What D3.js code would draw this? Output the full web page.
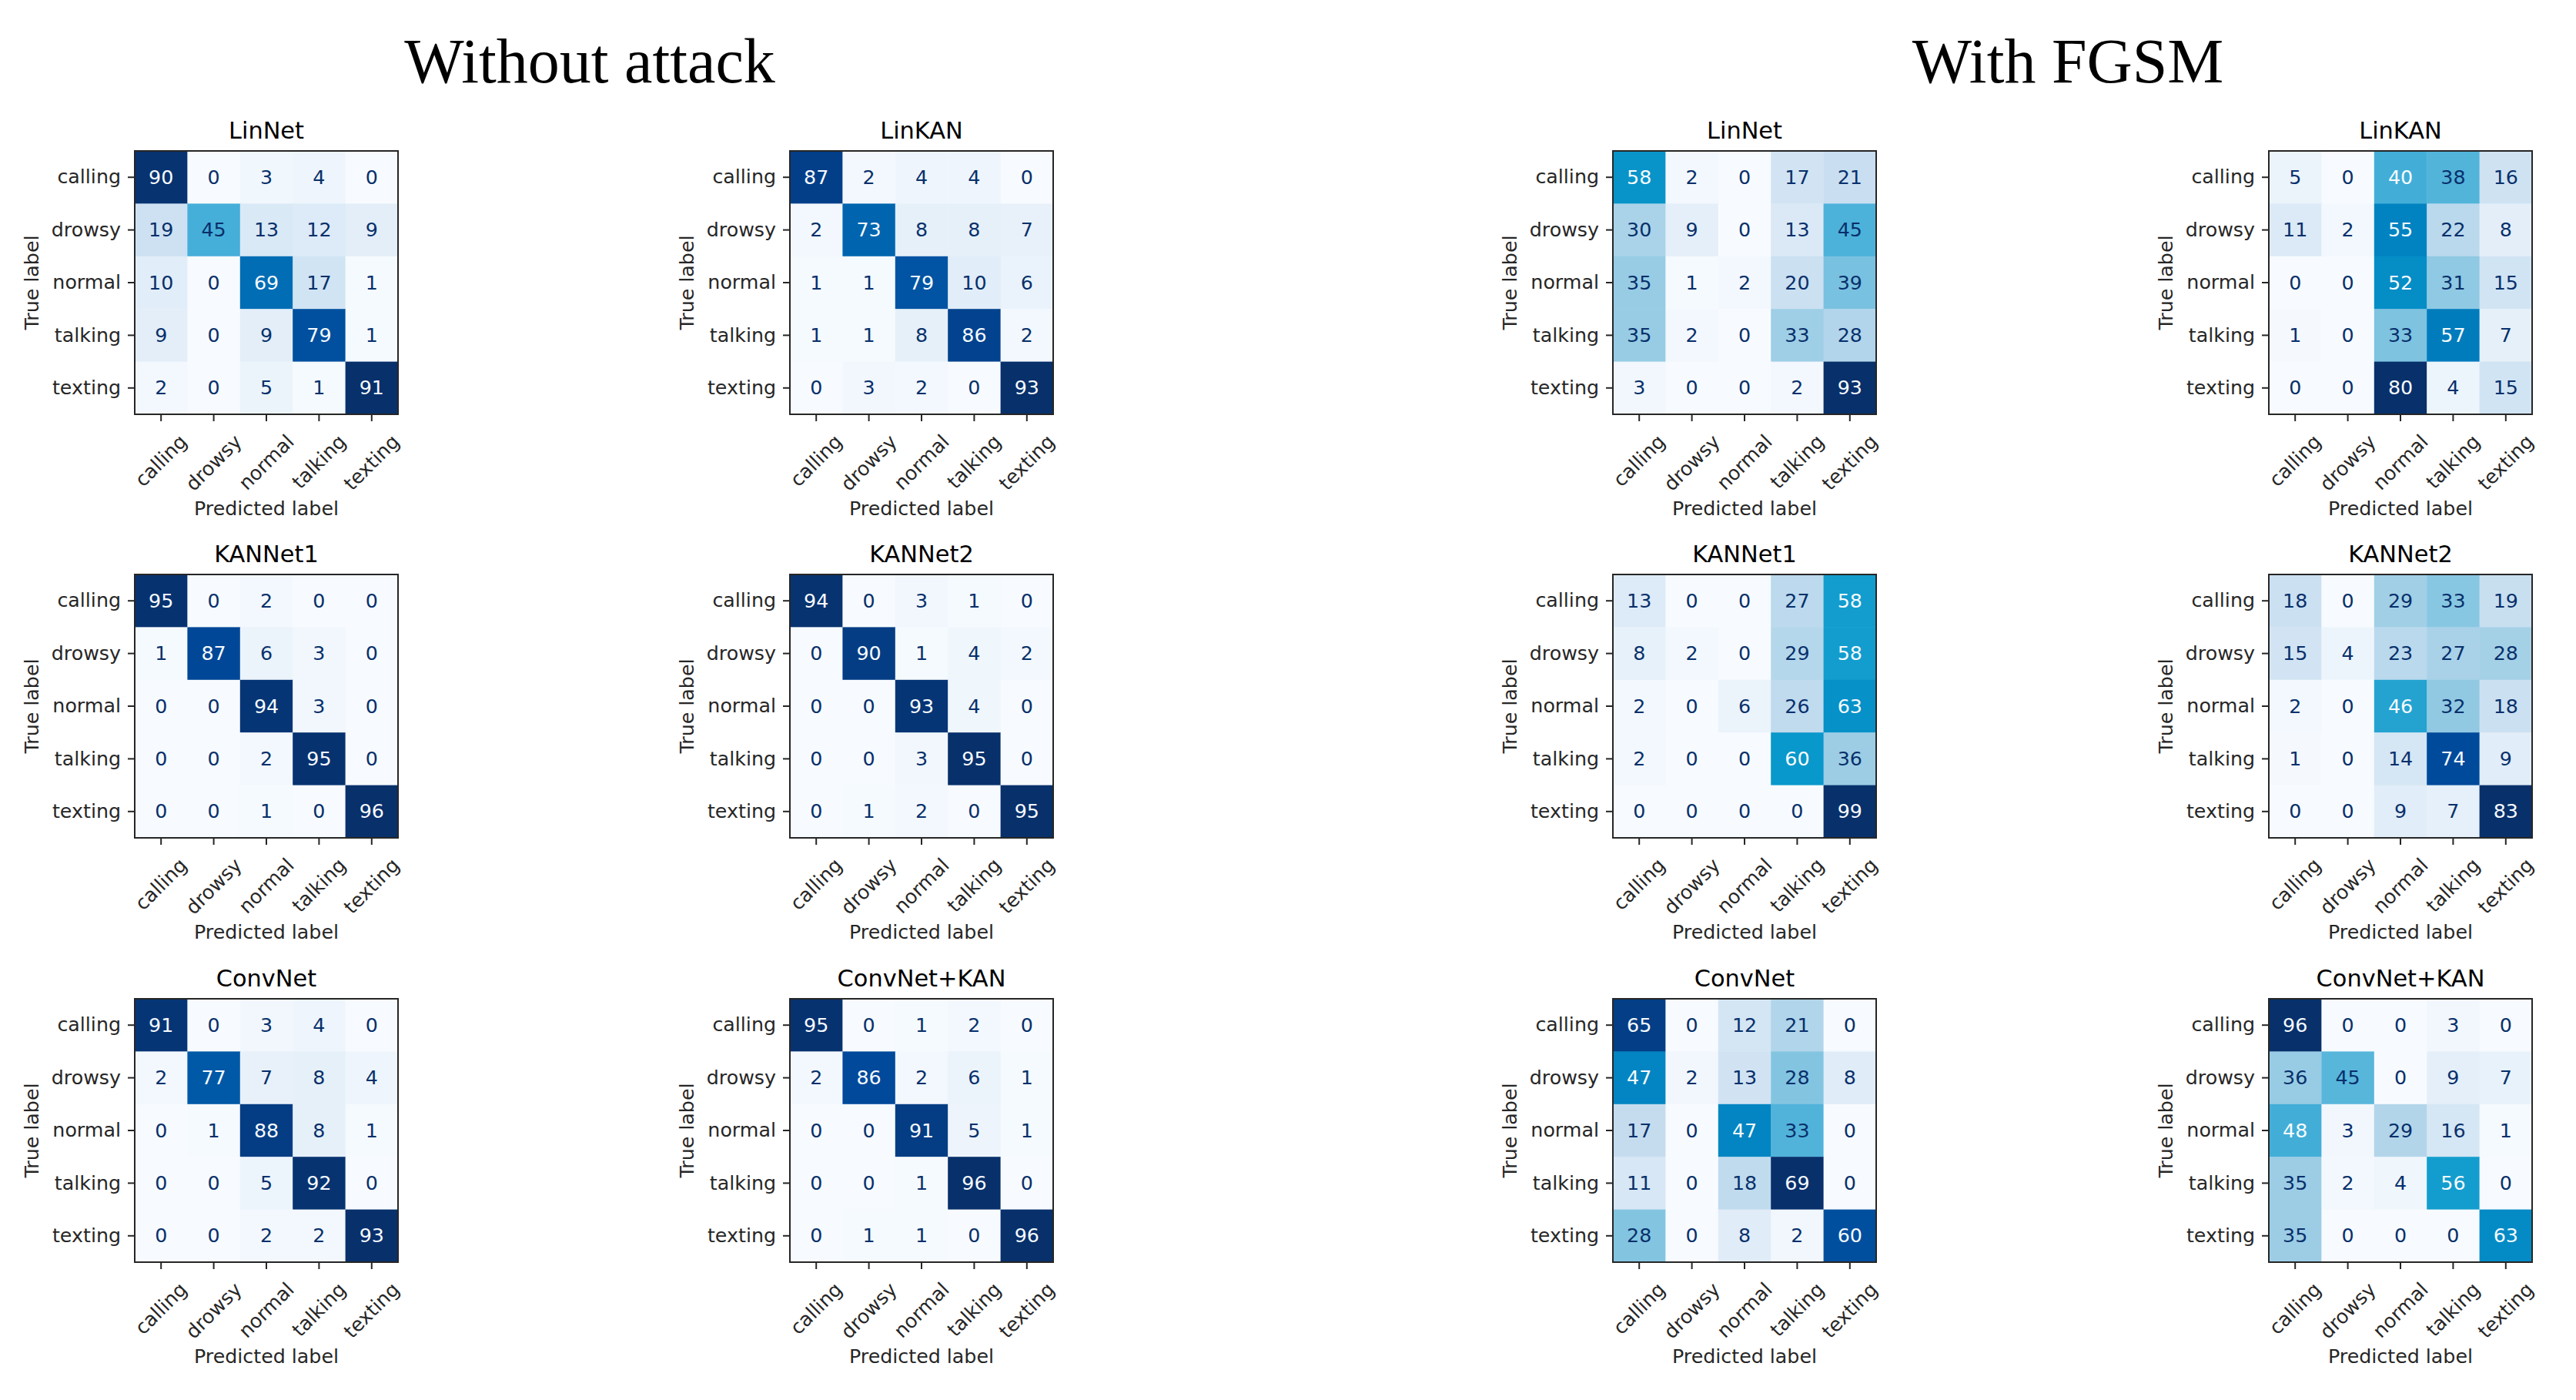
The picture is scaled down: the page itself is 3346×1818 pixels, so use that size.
<!DOCTYPE html>
<html>
<head>
<meta charset="utf-8">
<script src="https://cdn.jsdelivr.net/npm/d3@7"></script>
<style>
  html, body { margin: 0; padding: 0; background: #fff; }
  svg { display: block; }
</style>
</head>
<body>
<div id="chart"></div>
<script>
// ---------------- DATA ----------------
const categories = ["calling", "drowsy", "normal", "talking", "texting"];
const models = ["LinNet", "LinKAN", "KANNet1", "KANNet2", "ConvNet", "ConvNet+KAN"];
const headers = ["Without attack", "With FGSM"];

// Without attack
const cleanLinNet     = [[90,0,3,4,0],[19,45,13,12,9],[10,0,69,17,1],[9,0,9,79,1],[2,0,5,1,91]];
const cleanLinKAN     = [[87,2,4,4,0],[2,73,8,8,7],[1,1,79,10,6],[1,1,8,86,2],[0,3,2,0,93]];
const cleanKANNet1    = [[95,0,2,0,0],[1,87,6,3,0],[0,0,94,3,0],[0,0,2,95,0],[0,0,1,0,96]];
const cleanKANNet2    = [[94,0,3,1,0],[0,90,1,4,2],[0,0,93,4,0],[0,0,3,95,0],[0,1,2,0,95]];
const cleanConvNet    = [[91,0,3,4,0],[2,77,7,8,4],[0,1,88,8,1],[0,0,5,92,0],[0,0,2,2,93]];
const cleanConvNetKAN = [[95,0,1,2,0],[2,86,2,6,1],[0,0,91,5,1],[0,0,1,96,0],[0,1,1,0,96]];

// With FGSM
const fgsmLinNet      = [[58,2,0,17,21],[30,9,0,13,45],[35,1,2,20,39],[35,2,0,33,28],[3,0,0,2,93]];
const fgsmLinKAN      = [[5,0,40,38,16],[11,2,55,22,8],[0,0,52,31,15],[1,0,33,57,7],[0,0,80,4,15]];
const fgsmKANNet1     = [[13,0,0,27,58],[8,2,0,29,58],[2,0,6,26,63],[2,0,0,60,36],[0,0,0,0,99]];
const fgsmKANNet2     = [[18,0,29,33,19],[15,4,23,27,28],[2,0,46,32,18],[1,0,14,74,9],[0,0,9,7,83]];
const fgsmConvNet     = [[65,0,12,21,0],[47,2,13,28,8],[17,0,47,33,0],[11,0,18,69,0],[28,0,8,2,60]];
const fgsmConvNetKAN  = [[96,0,0,3,0],[36,45,0,9,7],[48,3,29,16,1],[35,2,4,56,0],[35,0,0,0,63]];

const cleanSet = [cleanLinNet, cleanLinKAN, cleanKANNet1, cleanKANNet2, cleanConvNet, cleanConvNetKAN];
const fgsmSet  = [fgsmLinNet, fgsmLinKAN, fgsmKANNet1, fgsmKANNet2, fgsmConvNet, fgsmConvNetKAN];

// ---------------- LAYOUT / STYLE ----------------
const W = 3346, H = 1818;
const colLefts = [175, 1026, 2095, 2947];
const rowTops = [196, 746, 1297];
const boxSize = 342;
const fs = 25.3;           // tick / label / annotation font size
const titleFs = 30.4;
const headerCenters = [766, 2686];
const headerBaseline = 107;
const textDark = "#262626";

// Blues-like ramp as it appears in the reference
const rampStops = [0, 0.125, 0.25, 0.375, 0.5, 0.6, 0.7, 0.8, 0.9, 1.0];
const rampColors = ["#f7fbff", "#deebf7", "#c4dcef", "#98cce4", "#42aed8", "#0a9acc", "#0080c0", "#0060ab", "#00489a", "#08306b"];
const ramp = d3.scaleLinear().domain(rampStops).range(rampColors).interpolate(d3.interpolateRgb).clamp(true);

const svg = d3.select("#chart").append("svg")
  .attr("width", W).attr("height", H)
  .attr("viewBox", `0 0 ${W} ${H}`)
  .style("font-family", "'DejaVu Sans', sans-serif");

svg.append("rect").attr("width", W).attr("height", H).attr("fill", "#fff");

// Headers
svg.selectAll("text.header").data(headers).enter().append("text")
  .attr("class", "header")
  .attr("x", (d, i) => headerCenters[i])
  .attr("y", headerBaseline)
  .attr("text-anchor", "middle")
  .style("font-family", "'Liberation Serif', 'Times New Roman', serif")
  .style("font-size", "82px")
  .attr("fill", "#000")
  .text(d => d);

function drawMatrix(matrix, title, left, top) {
  const g = svg.append("g").attr("transform", `translate(${left},${top})`);
  const x = d3.scaleBand().domain(categories).range([0, boxSize]);
  const y = d3.scaleBand().domain(categories).range([0, boxSize]);
  const flat = matrix.flat();
  const vmin = d3.min(flat), vmax = d3.max(flat);
  const norm = d3.scaleLinear().domain([vmin, vmax]).range([0, 1]);
  const thresh = (vmax + vmin) / 2;

  const cells = [];
  matrix.forEach((row, i) => row.forEach((v, j) => cells.push({ t: categories[i], p: categories[j], v })));

  g.selectAll("rect.cell").data(cells).enter().append("rect")
    .attr("class", "cell")
    .attr("x", d => x(d.p))
    .attr("y", d => y(d.t))
    .attr("width", x.bandwidth() + 0.5)
    .attr("height", y.bandwidth() + 0.5)
    .attr("fill", d => ramp(norm(d.v)));

  g.selectAll("text.val").data(cells).enter().append("text")
    .attr("class", "val")
    .attr("x", d => x(d.p) + x.bandwidth() / 2)
    .attr("y", d => y(d.t) + y.bandwidth() / 2)
    .attr("text-anchor", "middle")
    .attr("dominant-baseline", "central")
    .style("font-size", fs + "px")
    .attr("fill", d => d.v < thresh ? ramp(1) : ramp(0))
    .text(d => d.v);

  // frame
  g.append("rect")
    .attr("x", 0).attr("y", 0).attr("width", boxSize).attr("height", boxSize)
    .attr("fill", "none").attr("stroke", textDark).attr("stroke-width", 2);

  // Y axis
  const yAxis = d3.axisLeft(y).tickSize(9).tickPadding(9);
  const ya = g.append("g").call(yAxis);
  ya.select(".domain").remove();
  ya.selectAll(".tick line").attr("stroke", textDark).attr("stroke-width", 2);
  ya.selectAll(".tick text")
    .style("font-size", fs + "px")
    .style("font-family", "'DejaVu Sans', sans-serif")
    .attr("fill", textDark);

  // X axis
  const xAxis = d3.axisBottom(x).tickSize(9).tickFormat("");
  const xa = g.append("g").attr("transform", `translate(0,${boxSize})`).call(xAxis);
  xa.select(".domain").remove();
  xa.selectAll(".tick line").attr("stroke", textDark).attr("stroke-width", 2);

  categories.forEach(c => {
    const t = g.append("text")
      .attr("text-anchor", "middle")
      .attr("dominant-baseline", "central")
      .style("font-size", fs + "px")
      .attr("fill", textDark)
      .text(c);
    const w = t.node().getComputedTextLength();
    const cy = boxSize + 24 + (w + 0.8 * fs) / (2 * Math.SQRT2);
    t.attr("transform", `translate(${x(c) + x.bandwidth() / 2},${cy}) rotate(-45)`);
  });

  // Title
  g.append("text")
    .attr("x", boxSize / 2).attr("y", -16)
    .attr("text-anchor", "middle")
    .style("font-size", titleFs + "px")
    .attr("fill", "#000")
    .text(title);

  // Axis labels
  g.append("text")
    .attr("x", boxSize / 2).attr("y", boxSize + 131)
    .attr("text-anchor", "middle")
    .style("font-size", fs + "px")
    .attr("fill", textDark)
    .text("Predicted label");

  g.append("text")
    .attr("transform", `translate(${-125},${boxSize / 2}) rotate(-90)`)
    .attr("text-anchor", "middle")
    .style("font-size", fs + "px")
    .attr("fill", textDark)
    .text("True label");
}

[cleanSet, fgsmSet].forEach((set, h) => {
  set.forEach((m, k) => {
    const row = Math.floor(k / 2);
    const col = h * 2 + (k % 2);
    drawMatrix(m, models[k], colLefts[col], rowTops[row]);
  });
});
</script>
</body>
</html>
